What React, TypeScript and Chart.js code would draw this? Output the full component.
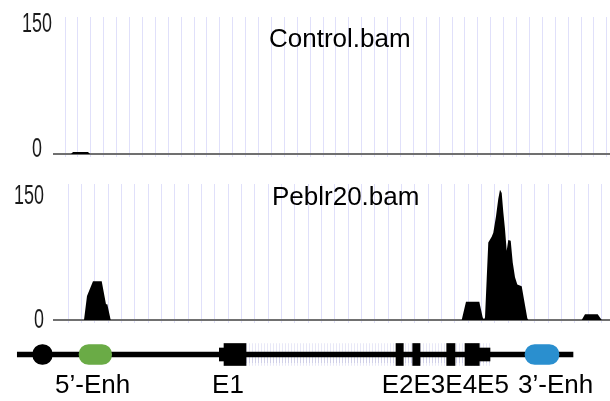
import React, { useEffect, useRef } from "react";
import { Chart, registerables } from "chart.js";

Chart.register(...registerables);

// ---------- data ----------
const yTickValues = [0, 150];
const yMax = 165;

const controlTitle = "Control.bam";
const controlPos = [0, 17, 19, 34, 36, 556];
const controlCov = [0, 0, 2.5, 2.5, 0, 0];

const peblrTitle = "Peblr20.bam";
const peblrPos = [
  0, 30, 33, 39, 47.7, 52, 53.3, 56.7,
  407.7, 412, 425.3, 428.7, 430, 431,
  432.7, 434.3, 437.7, 439.3, 442, 444.3, 446, 447.7, 449.3, 451, 452.7, 454.3,
  456.7, 458.7, 461, 463.3, 467.7, 470, 473.3, 474.3,
  527.7, 531, 543.7, 547.7, 556,
];
const peblrCov = [
  0, 0, 29, 47, 47, 19, 19, 0,
  0, 22, 22, 3, 1, 3,
  50, 94, 101, 106, 126, 147, 158, 154, 131, 110, 84, 97,
  96, 70, 52, 43, 41, 25, 2, 0,
  0, 7, 7, 0, 0,
];

// gene model (same genomic axis)
const backbone = [-36.7, 519];
const tssMark = [-21.3, -1.7];
const enh5 = [25, 57.7];
const enh3 = [471, 505];
const intronRegion = [192, 436];
const utrs = [
  [165.3, 170],
  [425.3, 436],
];
const exons = [
  [170, 192],
  [342, 349.3],
  [358.7, 366],
  [392.7, 401],
  [411, 425.3],
];
const featureLabels = ["5’-Enh", "E1", "E2E3E4E5", "3’-Enh"];
const labelPos = [38.6, 174, 391.3, 501.6];

// ---------- styles ----------
const GRID = "rgb(224,224,250)";
const BASE = "#707070";
const FONT = '"Liberation Sans", Arial, sans-serif';

function makeYLabels(x: number, align: CanvasTextAlign, dy: number) {
  return {
    id: "yLabels",
    afterDraw(chart: any) {
      const ys = chart.scales.y;
      const ctx = chart.ctx as CanvasRenderingContext2D;
      ctx.save();
      ctx.fillStyle = "#1a1a1a";
      ctx.font = `28px ${FONT}`;
      ctx.textAlign = align;
      ctx.textBaseline = "middle";
      for (const v of yTickValues) {
        const y = ys.getPixelForValue(v) + dy;
        ctx.save();
        ctx.translate(x, y);
        ctx.scale(0.64, 1);
        ctx.fillText(String(v), 0, 0);
        ctx.restore();
      }
      ctx.restore();
    },
  };
}

function makeTitle(text: string, x: number, y: number) {
  return {
    id: "trackTitle",
    afterDraw(chart: any) {
      const ctx = chart.ctx as CanvasRenderingContext2D;
      ctx.save();
      ctx.fillStyle = "#000";
      ctx.font = `26px ${FONT}`;
      ctx.textAlign = "left";
      ctx.textBaseline = "alphabetic";
      ctx.fillText(text, x, y);
      ctx.restore();
    },
  };
}

const geneLabelsPlugin = {
  id: "geneLabels",
  afterDraw(chart: any) {
    const xs = chart.scales.x;
    const ctx = chart.ctx as CanvasRenderingContext2D;
    ctx.save();
    ctx.fillStyle = "#000";
    ctx.font = `26px ${FONT}`;
    ctx.textAlign = "center";
    ctx.textBaseline = "alphabetic";
    featureLabels.forEach((t, i) => {
      ctx.fillText(t, xs.getPixelForValue(labelPos[i]), 63);
    });
    ctx.restore();
  },
};

function trackConfig(
  pos: number[],
  cov: number[],
  gridStart: number,
  gridStep: number,
  gridCount: number,
  padTop: number,
  padBottom: number,
  plugins: any[]
): any {
  return {
    type: "line",
    data: {
      datasets: [
        {
          data: pos.map((x, i) => ({ x, y: cov[i] })),
          borderColor: "rgba(0,0,0,0)",
          borderWidth: 1,
          backgroundColor: "#000",
          fill: "origin",
          pointRadius: 0,
          tension: 0,
        },
      ],
    },
    options: {
      animation: false,
      responsive: false,
      layout: { padding: { left: 54, right: 0, top: padTop, bottom: padBottom } },
      scales: {
        x: {
          type: "linear",
          min: 0,
          max: 556,
          ticks: { display: false },
          grid: { color: GRID, lineWidth: 1, drawTicks: true, tickLength: 3, tickColor: GRID },
          border: { display: true, color: BASE, width: 2 },
          afterBuildTicks: (s: any) => {
            const t = [];
            for (let k = 0; k < gridCount; k++) t.push({ value: gridStart + k * gridStep });
            s.ticks = t;
          },
        },
        y: { display: false, min: 0, max: yMax },
      },
      plugins: { legend: { display: false }, tooltip: { enabled: false } },
    },
    plugins,
  };
}

function makeHatch(): any {
  const c = document.createElement("canvas");
  c.width = 3;
  c.height = 22;
  const g = c.getContext("2d")!;
  g.fillStyle = "rgba(150,150,205,0.45)";
  g.fillRect(0, 0, 1, 11);
  g.fillStyle = "rgba(180,180,230,0.3)";
  g.fillRect(0, 11, 1, 11);
  return g.createPattern(c, "repeat");
}

function geneConfig(): any {
  const row = (r: number[]) => ({ y: "gene", x: r });
  return {
    type: "bar",
    data: {
      labels: ["gene"],
      datasets: [
        { label: "intron", data: [row(intronRegion)], backgroundColor: makeHatch(), maxBarThickness: 22, order: 10 },
        { label: "backbone", data: [row(backbone)], backgroundColor: "#000", maxBarThickness: 5, order: 9 },
        { label: "UTR", data: utrs.map(row), backgroundColor: "#000", maxBarThickness: 13, order: 2 },
        { label: "exon", data: exons.map(row), backgroundColor: "#000", maxBarThickness: 22, order: 1 },
        { label: "TSS", data: [row(tssMark)], backgroundColor: "#000", maxBarThickness: 20, borderRadius: 10, order: 0 },
        { label: "5'-Enh", data: [row(enh5)], backgroundColor: "#6aab46", maxBarThickness: 20, borderRadius: 10, order: 0 },
        { label: "3'-Enh", data: [row(enh3)], backgroundColor: "#2a8fcf", maxBarThickness: 20, borderRadius: 10, order: 0 },
      ],
    },
    options: {
      indexAxis: "y",
      animation: false,
      responsive: false,
      datasets: {
        bar: { grouped: false, barPercentage: 1, categoryPercentage: 1, borderSkipped: false, borderWidth: 0 },
      },
      layout: { padding: { left: 0, right: 0, top: 0, bottom: 22 } },
      scales: {
        x: { type: "linear", min: -54, max: 556, display: false },
        y: { type: "category", display: false },
      },
      plugins: { legend: { display: false }, tooltip: { enabled: false } },
    },
    plugins: [geneLabelsPlugin],
  };
}

export default function App() {
  const topRef = useRef<HTMLCanvasElement>(null);
  const lowRef = useRef<HTMLCanvasElement>(null);
  const geneRef = useRef<HTMLCanvasElement>(null);

  useEffect(() => {
    const charts: Chart[] = [];
    if (topRef.current) {
      charts.push(
        new Chart(
          topRef.current,
          trackConfig(controlPos, controlCov, 11, 12.9, 43, 17, 11, [
            makeYLabels(37, "center", -5),
            makeTitle(controlTitle, 269, 46.5),
          ])
        )
      );
    }
    if (lowRef.current) {
      charts.push(
        new Chart(
          lowRef.current,
          trackConfig(peblrPos, peblrCov, 14.3, 13.33, 41, 18, 11, [
            makeYLabels(44, "right", 0),
            makeTitle(peblrTitle, 272, 39),
          ])
        )
      );
    }
    if (geneRef.current) {
      charts.push(new Chart(geneRef.current, geneConfig()));
    }
    return () => charts.forEach((c) => c.destroy());
  }, []);

  const abs = (top: number, h: number): React.CSSProperties => ({
    position: "absolute",
    left: 0,
    top,
    width: 610,
    height: h,
    display: "block",
  });

  return (
    <div style={{ position: "absolute", left: 0, top: 0, width: 610, height: 401, background: "#fff", overflow: "hidden" }}>
      <canvas ref={topRef} width={610} height={168} style={abs(0, 168)} />
      <canvas ref={lowRef} width={610} height={168} style={abs(166, 168)} />
      <canvas ref={geneRef} width={610} height={71} style={abs(330, 71)} />
    </div>
  );
}
